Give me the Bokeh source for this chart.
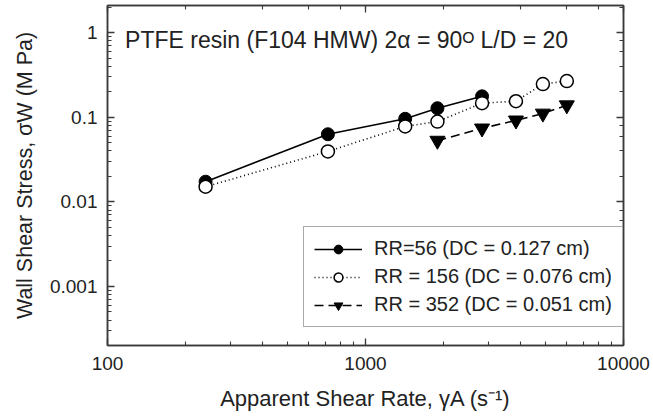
from bokeh.plotting import figure
from bokeh.models import LogAxis, CustomJSTickFormatter, Label, Legend, LegendItem, Range1d
from bokeh.embed import file_html
from bokeh.resources import INLINE

# ---- data ----
rr56_x = [240, 715, 1425, 1900, 2830]
rr56_y = [0.0173, 0.063, 0.096, 0.128, 0.177]
rr156_x = [240, 715, 1425, 1900, 2830, 3830, 4870, 6030]
rr156_y = [0.0151, 0.0395, 0.078, 0.089, 0.147, 0.155, 0.247, 0.268]
rr352_x = [1900, 2830, 3830, 4870, 6030]
rr352_y = [0.053, 0.074, 0.092, 0.111, 0.139]

labels = ["RR=56 (DC = 0.127 cm)", "RR = 156 (DC = 0.076 cm)", "RR = 352 (DC = 0.051 cm)"]
title_text = "PTFE resin (F104 HMW) 2α = 90ᴼ L/D = 20"
x_title = "Apparent Shear Rate, γA (s⁻¹)"
y_title = "Wall Shear Stress, σW (M Pa)"

FONT = "Liberation Sans"
AX = "#3a3a3a"

p = figure(width=653, height=418, x_axis_type="log", y_axis_type="log",
           x_range=Range1d(100, 10000), y_range=Range1d(0.0002, 2.1),
           output_backend="svg", toolbar_location=None,
           min_border_left=107, min_border_right=30, min_border_top=5, min_border_bottom=73)
p.grid.visible = False
p.outline_line_color = AX
p.outline_line_width = 1.5
p.background_fill_color = "white"
p.border_fill_color = "white"

fmt = CustomJSTickFormatter(code="return Number(tick.toPrecision(3)).toString();")
blank = CustomJSTickFormatter(code="return ' ';")

for ax in (p.xaxis[0], p.yaxis[0]):
    ax.formatter = fmt
    ax.axis_line_color = AX
    ax.axis_line_width = 1.5
    ax.major_tick_line_color = AX
    ax.minor_tick_line_color = AX
    ax.major_tick_line_width = 1.3
    ax.minor_tick_line_width = 1.1
    ax.major_tick_in = 7
    ax.major_tick_out = 0
    ax.minor_tick_in = 4
    ax.minor_tick_out = 0
    ax.major_label_text_font = FONT
    ax.major_label_text_font_size = "19px"
    ax.major_label_text_color = "#222"
    ax.axis_label_text_font = FONT
    ax.axis_label_text_font_style = "normal"
    ax.axis_label_text_color = "#222"

p.xaxis[0].axis_label = x_title
p.yaxis[0].axis_label = y_title
p.xaxis[0].axis_label_text_font_size = "22px"
p.yaxis[0].axis_label_text_font_size = "21.5px"
p.xaxis[0].major_label_standoff = 11
p.xaxis[0].axis_label_standoff = 13
p.yaxis[0].major_label_standoff = 10
p.yaxis[0].axis_label_standoff = 10

for loc in ("above", "right"):
    a = LogAxis(axis_line_color=AX, axis_line_width=1.5, formatter=blank,
                major_tick_line_color=AX, minor_tick_line_color=AX,
                major_tick_line_width=1.3, minor_tick_line_width=1.1,
                major_tick_in=7, major_tick_out=0, minor_tick_in=4, minor_tick_out=0,
                major_label_text_font_size="2px", major_label_standoff=0)
    p.add_layout(a, loc)

# series
l1 = p.line(rr56_x, rr56_y, line_color="black", line_width=1.6)
m1 = p.scatter(rr56_x, rr56_y, marker="circle", size=13, fill_color="black", line_color="black")
l2 = p.line(rr156_x, rr156_y, line_color="black", line_width=1.6, line_dash="1 3")
m2 = p.scatter(rr156_x, rr156_y, marker="circle", size=13, fill_color="white", line_color="black", line_width=1.5)
l3 = p.line(rr352_x, rr352_y, line_color="black", line_width=1.6, line_dash="9 5")
m3 = p.scatter(rr352_x, rr352_y, marker="inverted_triangle", size=15, fill_color="black", line_color="black")

legend = Legend(items=[LegendItem(label=labels[0], renderers=[l1, m1]),
                       LegendItem(label=labels[1], renderers=[l2, m2]),
                       LegendItem(label=labels[2], renderers=[l3, m3])],
                location=(196, 18), orientation="vertical",
                label_text_font=FONT, label_text_font_size="20px", label_text_color="#222",
                glyph_width=48, glyph_height=22, label_height=22, label_standoff=12,
                spacing=5, padding=10, margin=0,
                border_line_color="#555", border_line_width=1.3,
                background_fill_color="white", background_fill_alpha=1.0)
p.add_layout(legend, "center")

p.add_layout(Label(x=117, y=0.83, text=title_text, text_font=FONT, text_font_size="23px",
                   text_color="#222", text_baseline="alphabetic"))

open("out.html", "w").write(file_html(p, INLINE))
